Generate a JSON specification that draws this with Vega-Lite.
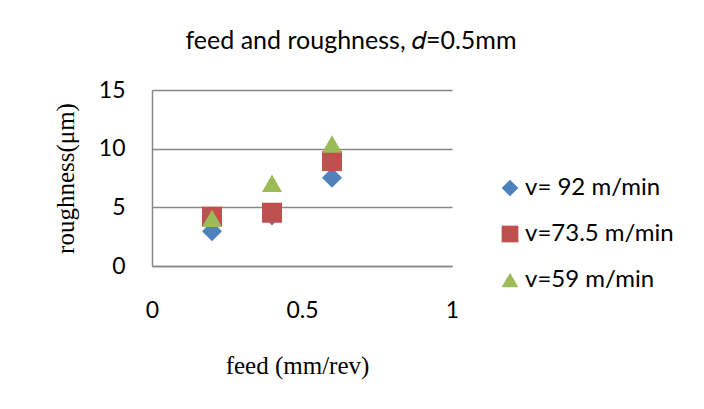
{
  "$schema": "https://vega.github.io/schema/vega-lite/v6.json",
  "width": 300,
  "height": 176,
  "autosize": {"type": "none"},
  "padding": {"left": 152, "top": 90, "right": 252, "bottom": 143},
  "background": "white",
  "title": {
    "text": "feed and roughness, 𝑑=0.5mm",
    "anchor": "middle",
    "dx": 49,
    "offset": 25,
    "font": "Lato",
    "fontSize": 25,
    "fontWeight": "normal",
    "color": "#000000"
  },
  "data": {
    "values": [
      {"feed": 0.2, "series": "v= 92 m/min", "roughness": 2.97},
      {"feed": 0.4, "series": "v= 92 m/min", "roughness": 4.3},
      {"feed": 0.6, "series": "v= 92 m/min", "roughness": 7.52},
      {"feed": 0.2, "series": "v=73.5 m/min", "roughness": 4.2},
      {"feed": 0.4, "series": "v=73.5 m/min", "roughness": 4.54},
      {"feed": 0.6, "series": "v=73.5 m/min", "roughness": 8.94},
      {"feed": 0.2, "series": "v=59 m/min", "roughness": 4.06},
      {"feed": 0.4, "series": "v=59 m/min", "roughness": 7.05},
      {"feed": 0.6, "series": "v=59 m/min", "roughness": 10.4}
    ]
  },
  "mark": {"type": "point", "filled": true, "opacity": 1, "size": 400},
  "encoding": {
    "x": {
      "field": "feed",
      "type": "quantitative",
      "scale": {"domain": [0, 1], "nice": false, "zero": false},
      "axis": {
        "values": [0, 0.5, 1],
        "format": "~g",
        "title": "feed (mm/rev)",
        "grid": false,
        "ticks": false,
        "domain": true,
        "domainColor": "#878787",
        "domainWidth": 1.5,
        "labelFlush": false,
        "labelPadding": 33,
        "labelFont": "Lato",
        "labelFontSize": 23,
        "labelColor": "#000000",
        "titleFont": "Liberation Serif",
        "titleFontSize": 25,
        "titleFontWeight": "normal",
        "titleColor": "#000000",
        "titlePadding": 31,
        "titleX": 145
      }
    },
    "y": {
      "field": "roughness",
      "type": "quantitative",
      "scale": {"domain": [0, 15], "nice": false},
      "axis": {
        "values": [0, 5, 10, 15],
        "title": "roughness(μm)",
        "grid": true,
        "gridColor": "#878787",
        "gridWidth": 1.5,
        "ticks": false,
        "domain": true,
        "domainColor": "#878787",
        "domainWidth": 1.5,
        "labelPadding": 27,
        "labelFont": "Lato",
        "labelFontSize": 23,
        "labelColor": "#000000",
        "titleFont": "Liberation Serif",
        "titleFontSize": 25,
        "titleFontWeight": "normal",
        "titleColor": "#000000",
        "titlePadding": 20
      }
    },
    "color": {
      "field": "series",
      "type": "nominal",
      "scale": {
        "domain": ["v= 92 m/min", "v=73.5 m/min", "v=59 m/min"],
        "range": ["#4F81BD", "#C0504D", "#9BBB59"]
      },
      "legend": {
        "title": null,
        "orient": "none",
        "legendX": 346,
        "legendY": 86,
        "padding": 0,
        "rowPadding": 22,
        "symbolSize": 280,
        "symbolOpacity": 1,
        "labelFont": "Lato",
        "labelFontSize": 24,
        "labelColor": "#000000",
        "labelOffset": 3,
        "labelLimit": 300
      }
    },
    "shape": {
      "field": "series",
      "type": "nominal",
      "scale": {
        "domain": ["v= 92 m/min", "v=73.5 m/min", "v=59 m/min"],
        "range": ["diamond", "square", "triangle-up"]
      },
      "legend": null
    }
  },
  "config": {
    "view": {"stroke": null}
  }
}
